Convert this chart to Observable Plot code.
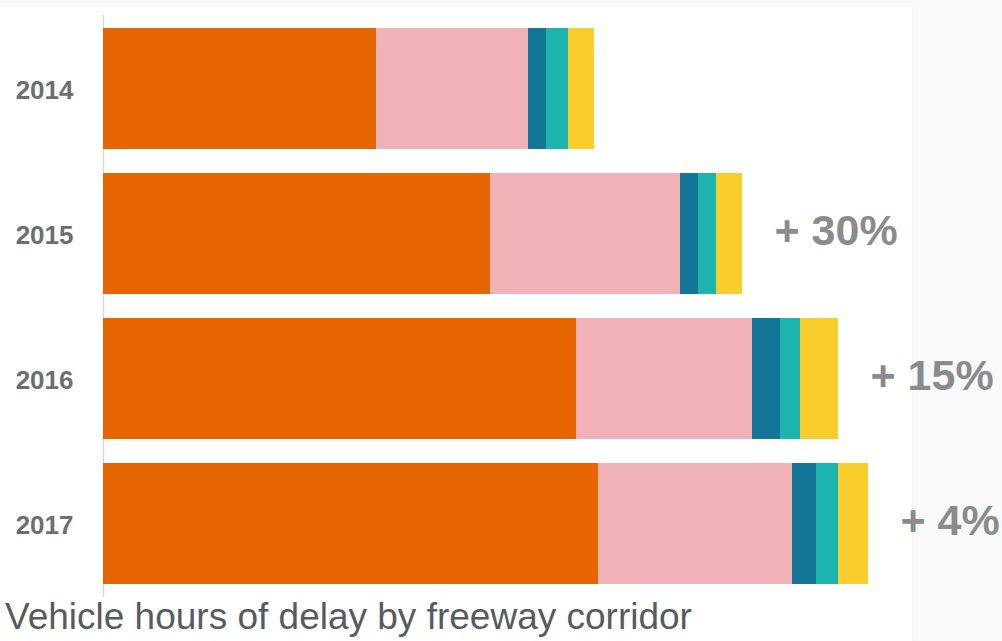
<!DOCTYPE html>
<html>
<head>
<meta charset="utf-8">
<script src="https://cdn.jsdelivr.net/npm/d3@7"></script>
<script src="https://cdn.jsdelivr.net/npm/@observablehq/plot@0.6"></script>
<style>
  html, body { margin: 0; padding: 0; background: #f9f9f9; width: 1002px; height: 641px; overflow: hidden; }
  #panel { position: absolute; left: 0; top: 7px; width: 912px; height: 634px; background: #ffffff; box-shadow: 1px 0 3px rgba(0,0,0,0.04); }
  #chart { position: absolute; left: 0; top: 0; }
  #caption { position: absolute; left: 5px; top: 597px; font-family: "Liberation Sans", Arial, sans-serif; font-size: 37px; color: #575b60; white-space: nowrap; line-height: 40px; }
</style>
</head>
<body>
<div id="panel"></div>
<div id="chart"></div>
<div id="caption">Vehicle hours of delay by freeway corridor</div>
<script>
const years = ["2014", "2015", "2016", "2017"];
const corridors = ["Corridor 1", "Corridor 2", "Corridor 3", "Corridor 4", "Corridor 5"];
const colors = ["#e56500", "#f0b2b6", "#137597", "#1cb5ae", "#f9cd2e"];
const delay2014 = [273, 152, 18, 22, 26];
const delay2015 = [387, 190, 18, 18, 26];
const delay2016 = [473, 176, 28, 20, 38];
const delay2017 = [495, 194, 24, 22, 30];
const changeLabels = ["", "+ 30%", "+ 15%", "+ 4%"];

const series = [delay2014, delay2015, delay2016, delay2017];
const rows = [];
years.forEach((yr, i) => corridors.forEach((c, j) => rows.push({year: yr, corridor: c, value: series[i][j]})));
const totals = years.map((yr, i) => ({year: yr, total: d3.sum(series[i]), label: changeLabels[i]}));

const font = "'Liberation Sans', Arial, sans-serif";

const chart = Plot.plot({
  width: 1002,
  height: 600,
  marginLeft: 103,
  marginRight: 0,
  marginTop: 15,
  marginBottom: 3,
  style: {background: "transparent", overflow: "visible"},
  x: {domain: [0, 899], axis: null},
  y: {domain: years, paddingInner: 0.1674, paddingOuter: 0.086, label: null},
  color: {domain: corridors, range: colors},
  marks: [
    Plot.ruleX([0], {stroke: "#d8d8d8", strokeWidth: 1.5}),
    Plot.barX(rows, Plot.stackX({x: "value", y: "year", fill: "corridor", order: corridors})),
    Plot.text(totals, {x: "total", y: "year", text: "label", dx: 32, dy: -3, textAnchor: "start",
      fontSize: 43, fontWeight: "bold", fill: "#8a8b8d", fontFamily: font}),
    Plot.axisY({tickSize: 0, tickPadding: 30, dy: 2, fontSize: 26, fontWeight: "bold", fill: "#6d6e71", fontFamily: font, label: null})
  ]
});
document.getElementById("chart").appendChild(chart);
</script>
</body>
</html>
